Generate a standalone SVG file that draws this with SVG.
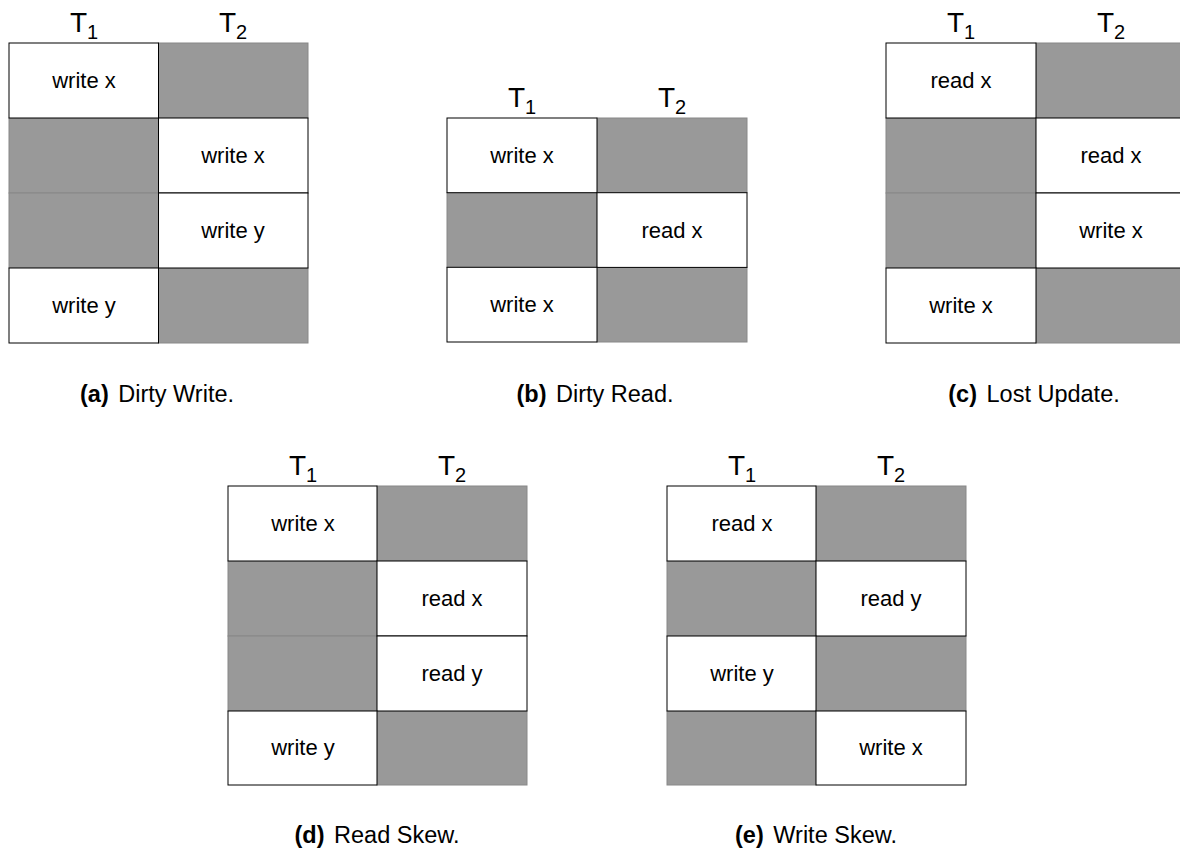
<svg xmlns="http://www.w3.org/2000/svg" width="1180" height="848" viewBox="0 0 1180 848">
<style>
.w{fill:#ffffff;stroke:#000000;stroke-width:1}
.g{fill:#999999;stroke:#888888;stroke-width:1}
.t{font-family:"Liberation Sans",Arial,sans-serif;font-size:22px;fill:#000;text-anchor:middle}
.h{font-family:"Liberation Sans",Arial,sans-serif;font-size:28px;fill:#000;text-anchor:middle}
.s{font-size:20px}
.c{font-family:"Liberation Sans",Arial,sans-serif;font-size:23.5px;fill:#000;text-anchor:middle}
.b{font-weight:bold}
</style>
<rect width="1180" height="848" fill="#ffffff"/>

<g id="a">
<rect class="g" x="158.5" y="43" width="149.5" height="75"/>
<rect class="g" x="9" y="118" width="149.5" height="75"/>
<rect class="g" x="9" y="193" width="149.5" height="75"/>
<rect class="g" x="158.5" y="268" width="149.5" height="75"/>
<rect class="w" x="9" y="43" width="149.5" height="75"/>
<rect class="w" x="158.5" y="118" width="149.5" height="75"/>
<rect class="w" x="158.5" y="193" width="149.5" height="75"/>
<rect class="w" x="9" y="268" width="149.5" height="75"/>
<text class="h" x="84" y="32">T<tspan class="s" dy="7">1</tspan></text>
<text class="h" x="233" y="32">T<tspan class="s" dy="7">2</tspan></text>
<text class="t" x="84" y="88">write x</text>
<text class="t" x="233" y="163">write x</text>
<text class="t" x="233" y="238">write y</text>
<text class="t" x="84" y="313">write y</text>
<text class="c" x="157" y="402"><tspan class="b">(a)</tspan><tspan dx="3"> Dirty Write.</tspan></text>
</g>

<g id="b">
<rect class="g" x="597" y="118" width="150" height="74.7"/>
<rect class="g" x="447" y="192.7" width="150" height="74.7"/>
<rect class="g" x="597" y="267.3" width="150" height="74.7"/>
<rect class="w" x="447" y="118" width="150" height="74.7"/>
<rect class="w" x="597" y="192.7" width="150" height="74.7"/>
<rect class="w" x="447" y="267.3" width="150" height="74.7"/>
<text class="h" x="522" y="107">T<tspan class="s" dy="7">1</tspan></text>
<text class="h" x="672" y="107">T<tspan class="s" dy="7">2</tspan></text>
<text class="t" x="522" y="163">write x</text>
<text class="t" x="672" y="238">read x</text>
<text class="t" x="522" y="312">write x</text>
<text class="c" x="595" y="402"><tspan class="b">(b)</tspan><tspan dx="3"> Dirty Read.</tspan></text>
</g>

<g id="c">
<rect class="g" x="1036" y="43" width="150" height="75"/>
<rect class="g" x="886" y="118" width="150" height="75"/>
<rect class="g" x="886" y="193" width="150" height="75"/>
<rect class="g" x="1036" y="268" width="150" height="75"/>
<rect class="w" x="886" y="43" width="150" height="75"/>
<rect class="w" x="1036" y="118" width="150" height="75"/>
<rect class="w" x="1036" y="193" width="150" height="75"/>
<rect class="w" x="886" y="268" width="150" height="75"/>
<text class="h" x="961" y="32">T<tspan class="s" dy="7">1</tspan></text>
<text class="h" x="1111" y="32">T<tspan class="s" dy="7">2</tspan></text>
<text class="t" x="961" y="88">read x</text>
<text class="t" x="1111" y="163">read x</text>
<text class="t" x="1111" y="238">write x</text>
<text class="t" x="961" y="313">write x</text>
<text class="c" x="1034" y="402"><tspan class="b">(c)</tspan><tspan dx="3"> Lost Update.</tspan></text>
</g>

<g id="d">
<rect class="g" x="377" y="486" width="150" height="75"/>
<rect class="g" x="228" y="561" width="149" height="75"/>
<rect class="g" x="228" y="636" width="149" height="75"/>
<rect class="g" x="377" y="711" width="150" height="74"/>
<rect class="w" x="228" y="486" width="149" height="75"/>
<rect class="w" x="377" y="561" width="150" height="75"/>
<rect class="w" x="377" y="636" width="150" height="75"/>
<rect class="w" x="228" y="711" width="149" height="74"/>
<text class="h" x="303" y="475">T<tspan class="s" dy="7">1</tspan></text>
<text class="h" x="452" y="475">T<tspan class="s" dy="7">2</tspan></text>
<text class="t" x="303" y="531">write x</text>
<text class="t" x="452" y="606">read x</text>
<text class="t" x="452" y="681">read y</text>
<text class="t" x="303" y="755">write y</text>
<text class="c" x="377" y="843"><tspan class="b">(d)</tspan><tspan dx="3"> Read Skew.</tspan></text>
</g>

<g id="e">
<rect class="g" x="816" y="486" width="150" height="75"/>
<rect class="g" x="667" y="561" width="149" height="75"/>
<rect class="g" x="816" y="636" width="150" height="75"/>
<rect class="g" x="667" y="711" width="149" height="74"/>
<rect class="w" x="667" y="486" width="149" height="75"/>
<rect class="w" x="816" y="561" width="150" height="75"/>
<rect class="w" x="667" y="636" width="149" height="75"/>
<rect class="w" x="816" y="711" width="150" height="74"/>
<text class="h" x="742" y="475">T<tspan class="s" dy="7">1</tspan></text>
<text class="h" x="891" y="475">T<tspan class="s" dy="7">2</tspan></text>
<text class="t" x="742" y="531">read x</text>
<text class="t" x="891" y="606">read y</text>
<text class="t" x="742" y="681">write y</text>
<text class="t" x="891" y="755">write x</text>
<text class="c" x="816" y="843"><tspan class="b">(e)</tspan><tspan dx="3"> Write Skew.</tspan></text>
</g>

<g id="connectors"></g>
</svg>
